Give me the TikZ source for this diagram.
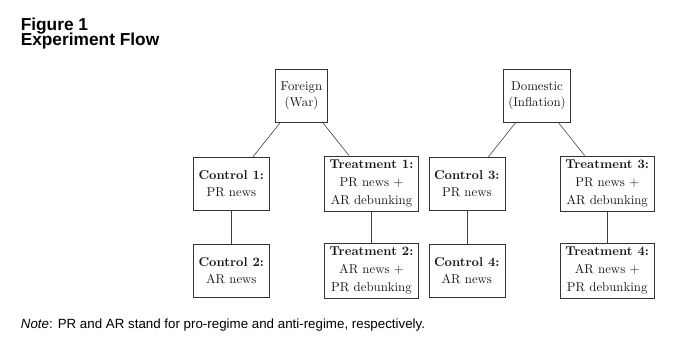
\documentclass[tikz,border=0pt]{standalone}
\usepackage{fontspec}
\newfontfamily\arialfont{Liberation Sans}
\begin{document}
\begin{tikzpicture}[x=0.78pt,y=-0.78pt,
  box/.style={draw=black!80, line width=0.45pt, align=center, inner sep=3pt,
              font=\fontsize{10}{13}\selectfont, text=black!90},
  topbox/.style={box, minimum width=40.6pt, minimum height=41.7pt,
              font=\fontsize{10}{12.5}\selectfont},
  ctrlbox/.style={box, minimum width=59.3pt, minimum height=41.6pt},
  trtbox/.style={box, minimum width=73.7pt, minimum height=43.6pt,
              font=\fontsize{10}{14}\selectfont},
  link/.style={draw=black!75, line width=0.45pt},
  titletext/.style={anchor=base west, inner sep=0pt, font=\arialfont\bfseries\fontsize{13.5}{14}\selectfont},
  notetext/.style={anchor=base west, inner sep=0pt, font=\arialfont\fontsize{10.4}{12}\selectfont}]
\useasboundingbox (0,0) rectangle (680,343);

\node[titletext] (title1) at (20.5,30.5) {Figure 1};
\node[titletext] (title2) at (20.5,45.8) {Experiment Flow};

\node[topbox] (foreign) at (301.5,96) {Foreign\\(War)};
\node[topbox, minimum width=52.6pt] (domestic) at (537,95.8) {Domestic\\(Inflation)};

\node[ctrlbox] (c1) at (231.3,184) {\textbf{Control 1:}\\PR news};
\node[trtbox]  (t1) at (371.5,183.8) {\textbf{Treatment 1:}\\PR news +\\AR debunking};
\node[ctrlbox] (c2) at (231.3,270.8) {\textbf{Control 2:}\\AR news};
\node[trtbox]  (t2) at (371.5,270.8) {\textbf{Treatment 2:}\\AR news +\\PR debunking};

\node[ctrlbox] (c3) at (466.8,184) {\textbf{Control 3:}\\PR news};
\node[trtbox]  (t3) at (607.2,183.8) {\textbf{Treatment 3:}\\PR news +\\AR debunking};
\node[ctrlbox] (c4) at (466.8,270.8) {\textbf{Control 4:}\\AR news};
\node[trtbox]  (t4) at (607.2,270.8) {\textbf{Treatment 4:}\\AR news +\\PR debunking};

\draw[link] (foreign) -- (c1);
\draw[link] (foreign) -- (t1);
\draw[link] (c1) -- (c2);
\draw[link] (t1) -- (t2);
\draw[link] (domestic) -- (c3);
\draw[link] (domestic) -- (t3);
\draw[link] (c3) -- (c4);
\draw[link] (t3) -- (t4);

\node[notetext] (note) at (20.7,328.5) {{\itshape Note}: PR and AR stand for pro-regime and anti-regime, respectively.};
\end{tikzpicture}
\end{document}
